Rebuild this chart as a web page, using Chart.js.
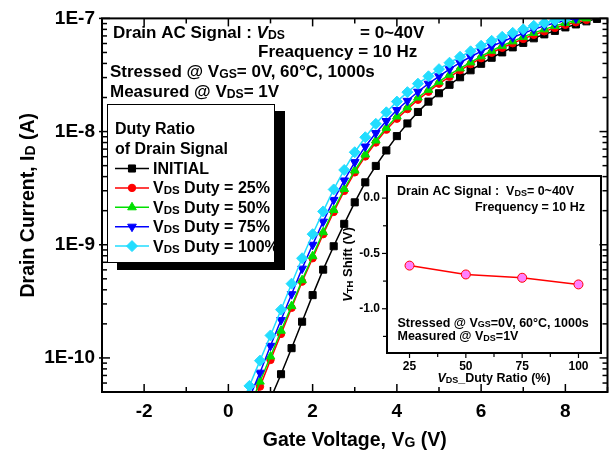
<!DOCTYPE html>
<html><head><meta charset="utf-8">
<script src="https://cdn.jsdelivr.net/npm/chart.js@4/dist/chart.umd.min.js"></script>
<style>
html,body{margin:0;padding:0;background:#fff;}
#wrap{position:relative;width:614px;height:456px;overflow:hidden;}
canvas{position:absolute;}
</style></head>
<body><div id="wrap">
<canvas id="main" width="614" height="456" style="left:0;top:0"></canvas>
<canvas id="inset" width="284" height="240" style="left:330px;top:160px"></canvas>
</div>
<script>
// ---------- data ----------
const gateVoltage = [0.25,0.5,0.75,1.0,1.25,1.5,1.75,2.0,2.25,2.5,2.75,3.0,3.25,3.5,3.75,4.0,4.25,4.5,4.75,5.0,5.25,5.5,5.75,6.0,6.25,6.5,6.75,7.0,7.25,7.5,7.75,8.0,8.25,8.5,8.75];
const idInitial = [null,null,null,4.35e-11,7.18e-11,1.22e-10,2.09e-10,3.59e-10,6.03e-10,9.70e-10,1.53e-9,2.37e-9,3.56e-9,4.97e-9,6.81e-9,9.12e-9,1.18e-8,1.49e-8,1.84e-8,2.18e-8,2.59e-8,3.02e-8,3.48e-8,3.97e-8,4.49e-8,5.01e-8,5.55e-8,6.08e-8,6.67e-8,7.23e-8,7.76e-8,8.33e-8,8.85e-8,9.42e-8,9.90e-8];
const idDuty25 = [null,3.27e-11,5.58e-11,9.60e-11,1.63e-10,2.77e-10,4.72e-10,7.60e-10,1.24e-9,1.95e-9,2.99e-9,4.36e-9,6.03e-9,8.00e-9,1.04e-8,1.30e-8,1.58e-8,1.91e-8,2.25e-8,2.65e-8,3.05e-8,3.48e-8,3.94e-8,4.45e-8,4.97e-8,5.50e-8,6.03e-8,6.59e-8,7.16e-8,7.68e-8,8.24e-8,8.77e-8,9.23e-8,9.70e-8,null];
const idDuty50 = [null,3.62e-11,6.18e-11,1.03e-10,1.74e-10,2.87e-10,4.86e-10,7.93e-10,1.29e-9,2.03e-9,3.11e-9,4.53e-9,6.27e-9,8.34e-9,1.08e-8,1.36e-8,1.64e-8,2.00e-8,2.34e-8,2.76e-8,3.18e-8,3.62e-8,4.09e-8,4.62e-8,5.18e-8,5.73e-8,6.27e-8,6.87e-8,7.45e-8,8.00e-8,8.59e-8,9.12e-8,9.60e-8,1.0e-7,null];
const idDuty75 = [null,4.45e-11,7.41e-11,1.28e-10,2.16e-10,3.66e-10,6.15e-10,1.00e-9,1.60e-9,2.49e-9,3.70e-9,5.37e-9,7.38e-9,9.70e-9,1.24e-8,1.55e-8,1.87e-8,2.25e-8,2.65e-8,3.08e-8,3.56e-8,4.06e-8,4.58e-8,5.12e-8,5.67e-8,6.21e-8,6.81e-8,7.38e-8,8.00e-8,8.59e-8,9.12e-8,9.60e-8,1.0e-7,null,null];
const idDuty100 = [3.41e-11,5.66e-11,9.46e-11,1.58e-10,2.67e-10,4.53e-10,7.60e-10,1.24e-9,1.97e-9,3.08e-9,4.58e-9,6.57e-9,8.91e-9,1.17e-8,1.48e-8,1.84e-8,2.23e-8,2.65e-8,3.08e-8,3.56e-8,4.06e-8,4.58e-8,5.12e-8,5.73e-8,6.34e-8,6.87e-8,7.45e-8,8.00e-8,8.59e-8,9.12e-8,9.60e-8,1.0e-7,null,null,null];
const seriesLabels = ['INITIAL','VDS Duty = 25%','VDS Duty = 50%','VDS Duty = 75%','VDS Duty = 100%'];
const xTickLabels = [-2,0,2,4,6,8];
const yTickLabels = [1e-10,1e-9,1e-8,1e-7];

const dutyRatio = [25,50,75,100];
const vthShift = [-0.61,-0.69,-0.72,-0.78];
const dutyTickLabels = [25,50,75,100];
const shiftTickLabels = [0,-0.5,-1.0];

const legendTitle = ['Duty Ratio','of Drain Signal'];
const mainNotes = ['Drain AC Signal : VDS','= 0~40V','Freaquency = 10 Hz','Stressed @ VGS= 0V, 60°C, 1000s','Measured @ VDS= 1V'];
const insetNotes = ['Drain AC Signal :  VDS= 0~40V','Frequency = 10 Hz','Stressed @ VGS=0V, 60°C, 1000s','Measured @ VDS=1V'];
const axisTitles = {x:'Gate Voltage, VG (V)', y:'Drain Current, ID (A)', ix:'VDS_Duty Ratio (%)', iy:'VTH Shift (V)'};

// ---------- helpers ----------
const FONT = "'Liberation Sans', Arial, Helvetica, sans-serif";
const SUB_RE = /([VI])(DS|GS|TH|G|D)(?=[\s=_)(,:]|$)/g;
function splitRich(text){
  const parts=[]; let last=0, m; SUB_RE.lastIndex=0;
  while((m=SUB_RE.exec(text))){
    if(m.index>last) parts.push({t:text.slice(last,m.index),k:'n'});
    parts.push({t:m[1],k:'v'}); parts.push({t:m[2],k:'s'});
    last=m.index+m[0].length;
  }
  if(last<text.length) parts.push({t:text.slice(last),k:'n'});
  return parts;
}
function fontFor(k,size,italicV){
  if(k==='s') return 'bold '+(size*0.72).toFixed(1)+'px '+FONT;
  if(k==='v'&&italicV) return 'italic bold '+size+'px '+FONT;
  return 'bold '+size+'px '+FONT;
}
function drawRich(ctx,text,x,y,size,opt){
  opt=opt||{};
  const parts=splitRich(text); let w=0;
  parts.forEach(p=>{ctx.font=fontFor(p.k,size,opt.italicV);p.w=ctx.measureText(p.t).width;w+=p.w;});
  let cx = opt.align==='center'? x-w/2 : opt.align==='right'? x-w : x;
  ctx.textBaseline='alphabetic'; ctx.textAlign='left'; ctx.fillStyle=opt.color||'#000';
  parts.forEach(p=>{ctx.font=fontFor(p.k,size,opt.italicV);ctx.fillText(p.t,cx,y+(p.k==='s'?size*0.06:0));cx+=p.w;});
}
function line(ctx,x0,y0,x1,y1){ctx.beginPath();ctx.moveTo(x0,y0);ctx.lineTo(x1,y1);ctx.stroke();}

function mkSet(label,ys,color,style,radius,rot,order){
  return {label, data: gateVoltage.map((x,i)=>({x, y: ys[i]})).filter(p=>p.y!=null),
    borderColor:color, backgroundColor:color, borderWidth:1.5, tension:0, fill:false,
    pointStyle:style, pointRadius:radius, pointRotation:rot, pointBorderWidth:1,
    pointBackgroundColor:color, pointBorderColor:color, order};
}

// ---------- main plugin ----------
const mainDecor = {
  id:'mainDecor',
  afterDatasetsDraw(chart){
    const {ctx, chartArea:a, scales:{x,y}} = chart;
    ctx.save();
    ctx.strokeStyle='#000'; ctx.lineWidth=1.5;
    // x ticks
    for(let v=-3; v<=9; v++){
      const px=x.getPixelForValue(v); const major = v%2===0; const L = major?8:5;
      line(ctx,px,a.bottom,px,a.bottom-L); line(ctx,px,a.top,px,a.top+L);
    }
    // y ticks
    for(let e=-11; e<=-7; e++){
      for(let k=1;k<=9;k++){
        const v=k*Math.pow(10,e); if(v<4.99e-11||v>1.0001e-7) continue;
        const py=y.getPixelForValue(v); const major=k===1; const L=major?8:5;
        line(ctx,a.left-(major?3:0),py,a.left+L,py); line(ctx,a.right,py,a.right-L,py);
      }
    }
    ctx.lineWidth=2; ctx.strokeRect(a.left,a.top,a.right-a.left,a.bottom-a.top);
    ctx.restore();
  },
  afterDraw(chart){
    const ctx=chart.ctx; ctx.save();
    // annotations
    drawRich(ctx,mainNotes[0],113,37.5,17,{italicV:true});
    drawRich(ctx,mainNotes[1],360,37.5,17);
    drawRich(ctx,mainNotes[2],258,57,17);
    drawRich(ctx,mainNotes[3],110,77,17);
    drawRich(ctx,mainNotes[4],110,96.5,17);
    // legend
    ctx.fillStyle='#000'; ctx.fillRect(117,111,168,159);
    ctx.fillStyle='#fff'; ctx.fillRect(107,104,168,159);
    ctx.strokeStyle='#000'; ctx.lineWidth=1; ctx.strokeRect(107.5,104.5,167,158);
    drawRich(ctx,legendTitle[0],115,134,16);
    drawRich(ctx,legendTitle[1],115,154,16);
    chart.data.datasets.forEach((d,i)=>{
      const by=174+i*19.4, cy=by-5.5;
      ctx.strokeStyle=d.borderColor; ctx.lineWidth=1.5; line(ctx,115,cy,149,cy);
      ctx.fillStyle=d.pointBackgroundColor; ctx.strokeStyle=d.pointBorderColor; ctx.lineWidth=1;
      Chart.helpers.drawPoint(ctx,{pointStyle:d.pointStyle,radius:d.pointRadius,rotation:d.pointRotation,borderWidth:1},132,cy);
      drawRich(ctx,d.label,153,by,16);
    });
    // axis titles
    const a=chart.chartArea;
    drawRich(ctx,axisTitles.x,(a.left+a.right)/2,446,19.5,{align:'center'});
    ctx.save(); ctx.translate(34,(a.top+a.bottom)/2); ctx.rotate(-Math.PI/2);
    drawRich(ctx,axisTitles.y,0,0,19.5,{align:'center'}); ctx.restore();
    ctx.restore();
  }
};

const tickFontMain = {family:FONT,size:19,weight:'bold'};
new Chart(document.getElementById('main'),{
  type:'line',
  data:{datasets:[
    mkSet(seriesLabels[0],idInitial,'#000000','rect',5,0,5),
    mkSet(seriesLabels[1],idDuty25,'#ff0000','circle',3.7,0,4),
    mkSet(seriesLabels[2],idDuty50,'#00e000','triangle',5,0,3),
    mkSet(seriesLabels[3],idDuty75,'#0000ff','triangle',5,180,2),
    mkSet(seriesLabels[4],idDuty100,'#22ddff','rectRot',5.5,0,1)
  ]},
  options:{
    responsive:false, animation:false, devicePixelRatio:1,
    layout:{padding:{top:17,right:5,left:0,bottom:0}},
    plugins:{legend:{display:false},tooltip:{enabled:false}},
    scales:{
      x:{type:'linear',min:-3,max:9,position:'bottom',
        afterFit:s=>{s.height=64;},
        afterBuildTicks:s=>{s.ticks=xTickLabels.map(v=>({value:v}));},
        grid:{display:false,drawTicks:false},border:{display:false},
        ticks:{font:tickFontMain,color:'#000',padding:8,autoSkip:false,maxRotation:0,callback:v=>String(v)}},
      y:{type:'logarithmic',min:5e-11,max:1e-7,position:'left',
        afterFit:s=>{s.width=102;},
        afterBuildTicks:s=>{s.ticks=yTickLabels.map(v=>({value:v}));},
        grid:{display:false,drawTicks:false},border:{display:false},
        ticks:{font:tickFontMain,color:'#000',padding:7,autoSkip:false,callback:v=>'1E'+Math.round(Math.log10(v))}}
    }
  },
  plugins:[mainDecor]
});

// ---------- inset ----------
const insetDecor = {
  id:'insetDecor',
  afterDatasetsDraw(chart){
    const {ctx, chartArea:a, scales:{x,y}} = chart;
    ctx.save(); ctx.strokeStyle='#000'; ctx.lineWidth=1.2;
    for(let v=12.5; v<=110; v+=12.5){ if(v<15) continue;
      const px=x.getPixelForValue(v); const major=(v%25===0);
      line(ctx,px,a.bottom,px,a.bottom+(major?5:4)); }
    for(let v=0; v>=-1.4; v-=0.25){
      const py=y.getPixelForValue(v); const major=(Math.abs(v*2-Math.round(v*2))<1e-6);
      line(ctx,a.left,py,a.left-(major?5:4),py); }
    ctx.lineWidth=2; ctx.strokeRect(a.left,a.top,a.right-a.left,a.bottom-a.top);
    drawRich(ctx,insetNotes[0],67,35,12.5);
    drawRich(ctx,insetNotes[1],255,50.5,12.5,{align:'right'});
    drawRich(ctx,insetNotes[2],67.5,166.5,12.5);
    drawRich(ctx,insetNotes[3],67.5,180,12.5);
    drawRich(ctx,axisTitles.ix,(a.left+a.right)/2,222,12.5,{align:'center',italicV:true});
    ctx.save(); ctx.translate(22,(a.top+a.bottom)/2); ctx.rotate(-Math.PI/2);
    drawRich(ctx,axisTitles.iy,0,0,13,{align:'center',italicV:true}); ctx.restore();
    ctx.restore();
  }
};
const tickFontInset = {family:FONT,size:12,weight:'bold'};
new Chart(document.getElementById('inset'),{
  type:'line',
  data:{datasets:[{label:'VTH Shift',data:dutyRatio.map((x,i)=>({x,y:vthShift[i]})),
    borderColor:'#ff0000',borderWidth:1.5,tension:0,fill:false,pointStyle:'circle',pointRadius:4.5,
    pointBackgroundColor:'#ff80ff',pointBorderColor:'#ff0000',pointBorderWidth:1}]},
  options:{
    responsive:false, animation:false, devicePixelRatio:1,
    layout:{padding:{top:16,right:13,left:0,bottom:0}},
    plugins:{legend:{display:false},tooltip:{enabled:false}},
    scales:{
      x:{type:'linear',min:15,max:110,position:'bottom',
        afterFit:s=>{s.height=47;},
        afterBuildTicks:s=>{s.ticks=dutyTickLabels.map(v=>({value:v}));},
        grid:{display:false,drawTicks:false},border:{display:false},
        ticks:{font:tickFontInset,color:'#000',padding:6,autoSkip:false,maxRotation:0}},
      y:{type:'linear',min:-1.4,max:0.2,position:'left',
        afterFit:s=>{s.width=57;},
        afterBuildTicks:s=>{s.ticks=shiftTickLabels.map(v=>({value:v}));},
        grid:{display:false,drawTicks:false},border:{display:false},
        ticks:{font:tickFontInset,color:'#000',padding:7,autoSkip:false,callback:v=>Number(v).toFixed(1)}}
    }
  },
  plugins:[insetDecor]
});
</script>
</body></html>
